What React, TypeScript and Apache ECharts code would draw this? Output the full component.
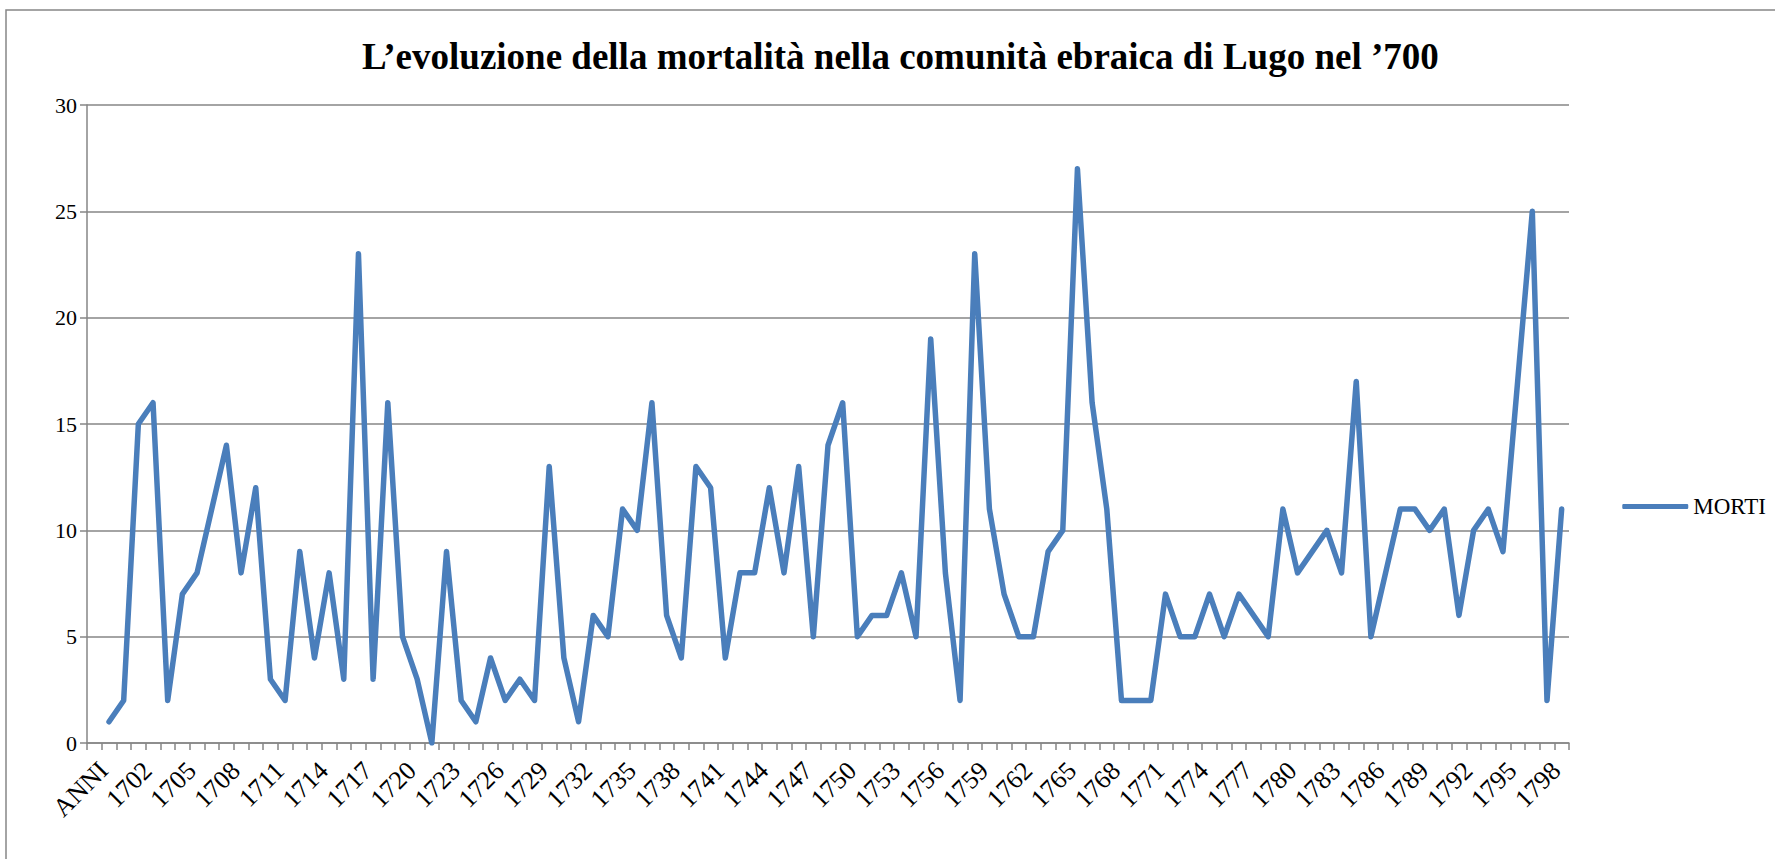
import React, { useEffect, useRef } from "react";
import * as echarts from "echarts";

const TITLE = "L’evoluzione della mortalità nella comunità ebraica di Lugo nel ’700";
const SERIES_NAME = "MORTI";
const FIRST_CATEGORY = "ANNI";
const YEARS: string[] = Array.from({ length: 100 }, (_, i) => String(1700 + i));
const CATEGORIES: string[] = [FIRST_CATEGORY, ...YEARS];

// deaths per year, 1700–1799 (the "ANNI" header category has no value)
const DEATHS_1700s = [1, 2, 15, 16, 2, 7, 8, 11, 14, 8];
const DEATHS_1710s = [12, 3, 2, 9, 4, 8, 3, 23, 3, 16];
const DEATHS_1720s = [5, 3, 0, 9, 2, 1, 4, 2, 3, 2];
const DEATHS_1730s = [13, 4, 1, 6, 5, 11, 10, 16, 6, 4];
const DEATHS_1740s = [13, 12, 4, 8, 8, 12, 8, 13, 5, 14];
const DEATHS_1750s = [16, 5, 6, 6, 8, 5, 19, 8, 2, 23];
const DEATHS_1760s = [11, 7, 5, 5, 9, 10, 27, 16, 11, 2];
const DEATHS_1770s = [2, 2, 7, 5, 5, 7, 5, 7, 6, 5];
const DEATHS_1780s = [11, 8, 9, 10, 8, 17, 5, 8, 11, 11];
const DEATHS_1790s = [10, 11, 6, 10, 11, 9, 17, 25, 2, 11];

const VALUES: (number | null)[] = [
  null,
  ...DEATHS_1700s,
  ...DEATHS_1710s,
  ...DEATHS_1720s,
  ...DEATHS_1730s,
  ...DEATHS_1740s,
  ...DEATHS_1750s,
  ...DEATHS_1760s,
  ...DEATHS_1770s,
  ...DEATHS_1780s,
  ...DEATHS_1790s,
];

const Y_MIN = 0;
const Y_MAX = 30;
const Y_STEP = 5;

const FONT = "'Liberation Serif', 'Times New Roman', serif";
const GRAY = "#868686";
const BLUE = "#4A7EBB";

export default function App() {
  const ref = useRef<HTMLDivElement>(null);

  useEffect(() => {
    if (!ref.current) return;
    const chart = echarts.init(ref.current, null, { renderer: "svg" });
    chart.setOption({
      animation: false,
      backgroundColor: "#ffffff",
      title: {
        text: TITLE,
        left: 357,
        top: 33,
        textStyle: {
          fontFamily: FONT,
          fontWeight: "bold",
          fontSize: 37,
          color: "#000000",
        },
      },
      graphic: [
        {
          type: "rect",
          shape: { x: 6, y: 10, width: 1850, height: 950 },
          style: { fill: "none", stroke: GRAY, lineWidth: 1.5 },
          silent: true,
          z: -1,
        },
      ],
      legend: {
        data: [SERIES_NAME],
        right: 4,
        top: 490,
        orient: "vertical",
        icon: "roundRect",
        itemWidth: 66,
        itemHeight: 5,
        itemGap: 5,
        textStyle: { fontFamily: FONT, fontSize: 23, color: "#000000" },
      },
      grid: { left: 87, right: 206, top: 105, bottom: 116, containLabel: false },
      xAxis: {
        type: "category",
        data: CATEGORIES,
        boundaryGap: true,
        axisLine: { show: true, lineStyle: { color: GRAY, width: 1.5 } },
        axisTick: {
          show: true,
          interval: 0,
          alignWithLabel: false,
          length: 7,
          lineStyle: { color: GRAY, width: 1.5 },
        },
        axisLabel: {
          interval: 2,
          rotate: 45,
          margin: 14,
          verticalAlign: "top",
          fontFamily: FONT,
          fontSize: 26,
          color: "#000000",
        },
        splitLine: { show: false },
      },
      yAxis: {
        type: "value",
        min: Y_MIN,
        max: Y_MAX,
        interval: Y_STEP,
        axisLine: { show: true, lineStyle: { color: GRAY, width: 1.5 } },
        axisTick: { show: true, length: 7, lineStyle: { color: GRAY, width: 1.5 } },
        axisLabel: {
          margin: 10,
          fontFamily: FONT,
          fontSize: 22,
          color: "#000000",
        },
        splitLine: { show: true, lineStyle: { color: GRAY, width: 1.5 } },
      },
      series: [
        {
          name: SERIES_NAME,
          type: "line",
          data: VALUES,
          symbol: "none",
          showSymbol: false,
          connectNulls: false,
          lineStyle: { color: BLUE, width: 5.5, cap: "round", join: "round" },
          itemStyle: { color: BLUE },
        },
      ],
    });
    return () => chart.dispose();
  }, []);

  return (
    <div
      ref={ref}
      style={{ position: "fixed", left: 0, top: 0, width: 1775, height: 859 }}
    />
  );
}
